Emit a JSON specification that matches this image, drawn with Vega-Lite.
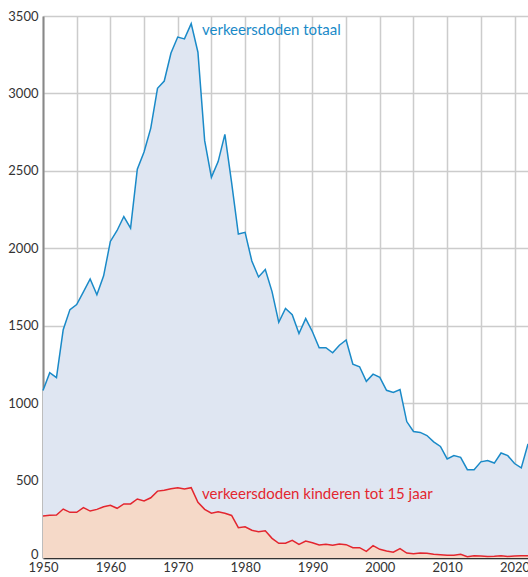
{
  "$schema": "https://vega.github.io/schema/vega-lite/v6.json",
  "autosize": {"type": "none"},
  "padding": {"left": 43, "top": 16, "right": 0, "bottom": 19},
  "width": 485,
  "height": 542,
  "config": {
    "view": {"stroke": null},
    "font": "Lato",
    "axis": {"labelFont": "Lato", "labelFontSize": 13, "labelColor": "#333", "ticks": false, "title": null, "grid": true, "gridColor": "#cccccc", "gridWidth": 1.5, "zindex": 1}
  },
  "datasets": {
    "deaths": [
      {"jaar": 1950, "totaal": 1081, "kinderen": 271},
      {"jaar": 1951, "totaal": 1197, "kinderen": 276},
      {"jaar": 1952, "totaal": 1165, "kinderen": 277},
      {"jaar": 1953, "totaal": 1474, "kinderen": 316},
      {"jaar": 1954, "totaal": 1604, "kinderen": 295},
      {"jaar": 1955, "totaal": 1637, "kinderen": 295},
      {"jaar": 1956, "totaal": 1719, "kinderen": 325},
      {"jaar": 1957, "totaal": 1802, "kinderen": 303},
      {"jaar": 1958, "totaal": 1700, "kinderen": 314},
      {"jaar": 1959, "totaal": 1822, "kinderen": 331},
      {"jaar": 1960, "totaal": 2044, "kinderen": 340},
      {"jaar": 1961, "totaal": 2115, "kinderen": 321},
      {"jaar": 1962, "totaal": 2205, "kinderen": 349},
      {"jaar": 1963, "totaal": 2130, "kinderen": 349},
      {"jaar": 1964, "totaal": 2511, "kinderen": 381},
      {"jaar": 1965, "totaal": 2622, "kinderen": 368},
      {"jaar": 1966, "totaal": 2776, "kinderen": 389},
      {"jaar": 1967, "totaal": 3033, "kinderen": 432},
      {"jaar": 1968, "totaal": 3080, "kinderen": 437},
      {"jaar": 1969, "totaal": 3261, "kinderen": 447},
      {"jaar": 1970, "totaal": 3364, "kinderen": 454},
      {"jaar": 1971, "totaal": 3352, "kinderen": 445},
      {"jaar": 1972, "totaal": 3451, "kinderen": 454},
      {"jaar": 1973, "totaal": 3266, "kinderen": 360},
      {"jaar": 1974, "totaal": 2695, "kinderen": 314},
      {"jaar": 1975, "totaal": 2458, "kinderen": 289},
      {"jaar": 1976, "totaal": 2560, "kinderen": 299},
      {"jaar": 1977, "totaal": 2736, "kinderen": 289},
      {"jaar": 1978, "totaal": 2424, "kinderen": 275},
      {"jaar": 1979, "totaal": 2092, "kinderen": 196},
      {"jaar": 1980, "totaal": 2103, "kinderen": 202},
      {"jaar": 1981, "totaal": 1918, "kinderen": 179},
      {"jaar": 1982, "totaal": 1815, "kinderen": 170},
      {"jaar": 1983, "totaal": 1863, "kinderen": 176},
      {"jaar": 1984, "totaal": 1720, "kinderen": 127},
      {"jaar": 1985, "totaal": 1522, "kinderen": 95},
      {"jaar": 1986, "totaal": 1611, "kinderen": 95},
      {"jaar": 1987, "totaal": 1571, "kinderen": 114},
      {"jaar": 1988, "totaal": 1449, "kinderen": 88},
      {"jaar": 1989, "totaal": 1546, "kinderen": 110},
      {"jaar": 1990, "totaal": 1461, "kinderen": 99},
      {"jaar": 1991, "totaal": 1358, "kinderen": 84},
      {"jaar": 1992, "totaal": 1358, "kinderen": 88},
      {"jaar": 1993, "totaal": 1325, "kinderen": 82},
      {"jaar": 1994, "totaal": 1374, "kinderen": 90},
      {"jaar": 1995, "totaal": 1408, "kinderen": 86},
      {"jaar": 1996, "totaal": 1251, "kinderen": 67},
      {"jaar": 1997, "totaal": 1235, "kinderen": 67},
      {"jaar": 1998, "totaal": 1141, "kinderen": 43},
      {"jaar": 1999, "totaal": 1187, "kinderen": 80},
      {"jaar": 2000, "totaal": 1166, "kinderen": 56},
      {"jaar": 2001, "totaal": 1083, "kinderen": 45},
      {"jaar": 2002, "totaal": 1069, "kinderen": 37},
      {"jaar": 2003, "totaal": 1088, "kinderen": 60},
      {"jaar": 2004, "totaal": 881, "kinderen": 32},
      {"jaar": 2005, "totaal": 817, "kinderen": 28},
      {"jaar": 2006, "totaal": 811, "kinderen": 32},
      {"jaar": 2007, "totaal": 791, "kinderen": 30},
      {"jaar": 2008, "totaal": 750, "kinderen": 24},
      {"jaar": 2009, "totaal": 720, "kinderen": 21},
      {"jaar": 2010, "totaal": 640, "kinderen": 18},
      {"jaar": 2011, "totaal": 661, "kinderen": 18},
      {"jaar": 2012, "totaal": 650, "kinderen": 24},
      {"jaar": 2013, "totaal": 570, "kinderen": 8},
      {"jaar": 2014, "totaal": 570, "kinderen": 14},
      {"jaar": 2015, "totaal": 621, "kinderen": 13},
      {"jaar": 2016, "totaal": 629, "kinderen": 10},
      {"jaar": 2017, "totaal": 613, "kinderen": 12},
      {"jaar": 2018, "totaal": 678, "kinderen": 15},
      {"jaar": 2019, "totaal": 661, "kinderen": 10},
      {"jaar": 2020, "totaal": 610, "kinderen": 13},
      {"jaar": 2021, "totaal": 582, "kinderen": 14},
      {"jaar": 2022, "totaal": 737, "kinderen": 14}
    ],
    "labels": [
      {"jaar": 1973.6, "waarde": 3408, "tekst": "verkeersdoden totaal", "reeks": "totaal"},
      {"jaar": 1973.6, "waarde": 413, "tekst": "verkeersdoden kinderen tot 15 jaar", "reeks": "kinderen"}
    ]
  },
  "data": {"name": "deaths"},
  "encoding": {
    "x": {
      "field": "jaar", "type": "quantitative",
      "scale": {"domain": [1950, 2022], "nice": false, "zero": false},
      "axis": {
        "values": [1950, 1955, 1960, 1965, 1970, 1975, 1980, 1985, 1990, 1995, 2000, 2005, 2010, 2015, 2020],
        "labelExpr": "datum.value % 10 === 0 ? datum.value : ''",
        "domainColor": "#333", "domainWidth": 1.5, "labelPadding": 3, "labelFlush": false
      }
    }
  },
  "layer": [
    {
      "mark": {"type": "area", "color": "#dfe6f2", "opacity": 1},
      "encoding": {
        "y": {
          "field": "totaal", "type": "quantitative",
          "scale": {"domain": [0, 3500], "nice": false},
          "axis": {
            "values": [0, 500, 1000, 1500, 2000, 2500, 3000, 3500], "format": "d",
            "domainColor": "#888", "domainWidth": 2, "labelPadding": 5,
            "labelBaseline": {"condition": {"test": "datum.value === 0", "value": "alphabetic"}, "value": "middle"}
          }
        }
      }
    },
    {
      "mark": {"type": "line", "color": "#1a8ac8", "strokeWidth": 1.5},
      "encoding": {"y": {"field": "totaal", "type": "quantitative"}}
    },
    {
      "mark": {"type": "area", "color": "#f5d9c8", "opacity": 1},
      "encoding": {"y": {"field": "kinderen", "type": "quantitative"}}
    },
    {
      "mark": {"type": "line", "color": "#e3262f", "strokeWidth": 1.5},
      "encoding": {"y": {"field": "kinderen", "type": "quantitative"}}
    },
    {
      "data": {"name": "labels"},
      "mark": {"type": "text", "align": "left", "baseline": "middle", "fontSize": 15, "font": "Lato"},
      "encoding": {
        "y": {"field": "waarde", "type": "quantitative"},
        "text": {"field": "tekst"},
        "color": {"field": "reeks", "type": "nominal", "scale": {"domain": ["totaal", "kinderen"], "range": ["#1a8ac8", "#e3262f"]}, "legend": null}
      }
    }
  ]
}
